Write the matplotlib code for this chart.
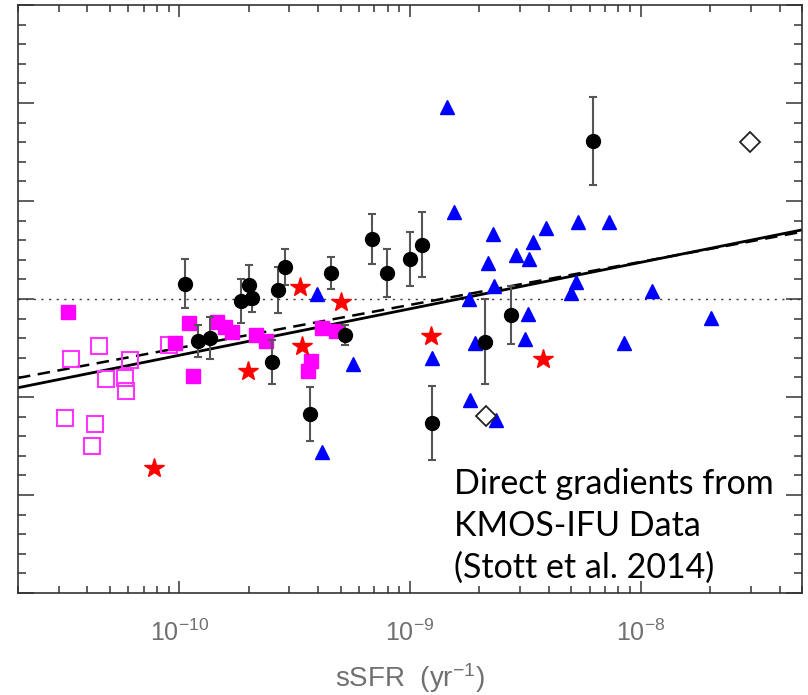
import numpy as np
import matplotlib
matplotlib.use("Agg")
import matplotlib.pyplot as plt
from matplotlib.ticker import LogLocator, MultipleLocator, NullFormatter

# metallicity gradient vs sSFR
sq_x = [3.3e-11, 1.1e-10, 1.46e-10, 1.58e-10, 1.70e-10, 9.6e-11, 1.15e-10, 2.15e-10,
        2.38e-10, 3.73e-10, 3.62e-10, 4.16e-10, 4.78e-10]
sq_y = [-0.0066, -0.0122, -0.0117, -0.0143, -0.0168, -0.0224, -0.0393, -0.0184,
        -0.0214, -0.0316, -0.0367, -0.0148, -0.0163]

open_sq_x = [3.4e-11, 4.5e-11, 6.1e-11, 4.8e-11, 5.8e-11, 5.9e-11, 3.2e-11, 4.3e-11, 4.2e-11, 9.0e-11]
open_sq_y = [-0.0306, -0.0240, -0.0311, -0.0408, -0.0403, -0.0469, -0.0607, -0.0638, -0.0750, -0.0235]

star_x = [7.8e-11, 3.34e-10, 5.03e-10, 3.41e-10, 1.99e-10, 1.23e-9, 3.77e-9]
star_y = [-0.0862, 0.0061, -0.0015, -0.0240, -0.0367, -0.0189, -0.0306]

tri_x = [3.96e-10, 5.67e-10, 4.16e-10, 1.245e-9, 1.82e-9, 1.80e-9, 2.31e-9, 1.91e-9, 3.24e-9,
         3.15e-9, 2.36e-9, 5.23e-9, 4.98e-9, 1.45e-9, 1.55e-9, 2.29e-9, 2.18e-9, 2.88e-9,
         3.27e-9, 3.41e-9, 3.88e-9, 5.34e-9, 7.27e-9, 1.12e-8, 2.01e-8, 8.44e-9]
tri_y = [0.0026, -0.0332, -0.0781, -0.0301, -0.0515, 0.0, 0.0066, -0.0224, -0.0077,
         -0.0204, -0.0617, 0.0087, 0.0031, 0.0980, 0.0444, 0.0332, 0.0184, 0.0224,
         0.0204, 0.0291, 0.0362, 0.0393, 0.0393, 0.0041, -0.0097, -0.0224]

diam_x = [2.99e-8, 2.13e-9]
diam_y = [0.0801, -0.0597]

kmos_x = [1.06e-10, 1.20e-10, 1.36e-10, 1.86e-10, 2.01e-10, 2.07e-10, 2.53e-10, 2.68e-10,
          2.88e-10, 3.69e-10, 4.55e-10, 5.23e-10, 6.85e-10, 7.95e-10, 1.0e-9, 1.13e-9,
          1.245e-9, 2.11e-9, 2.74e-9, 6.20e-9]
kmos_y = [0.0077, -0.0214, -0.0199, -0.0010, 0.0071, 0.0005, -0.0321, 0.0046,
          0.0163, -0.0587, 0.0133, -0.0184, 0.0306, 0.0133, 0.0204, 0.0276,
          -0.0633, -0.0219, -0.0082, 0.0806]
kmos_err = [0.0125, 0.0082, 0.0105, 0.0112, 0.0102, 0.0071, 0.0112, 0.0117,
            0.0092, 0.0140, 0.0082, 0.0051, 0.0128, 0.0122, 0.0140, 0.0166,
            0.0189, 0.0217, 0.0150, 0.0224]

# linear fits in log(sSFR): y = a + b * (log10(sSFR) + 9)
fit_solid = [-0.0050, 0.0237]
fit_dashed = [-0.0030, 0.02195]

xticks = [1e-10, 1e-9, 1e-8]
xtick_labels = ['10$^{-10}$', '10$^{-9}$', '10$^{-8}$']

plt.rcParams['font.family'] = ['Liberation Sans', 'DejaVu Sans']
plt.rcParams['mathtext.fontset'] = 'custom'
plt.rcParams['mathtext.rm'] = 'Liberation Sans'
plt.rcParams['mathtext.it'] = 'Liberation Sans:italic'

fig = plt.figure(figsize=(8.08, 6.95), dpi=100)
ax = fig.add_axes([18 / 808, 1 - 593 / 695, 784 / 808, 588 / 695])

xlim = (2.0e-11, 5.0e-8)
ax.set_xscale('log')
ax.set_xlim(xlim)
ax.set_ylim(-0.15, 0.15)

ax.axhline(0, color='#333333', ls=(0, (1.5, 4)), lw=1, zorder=1)

lx = np.linspace(np.log10(xlim[0]), np.log10(xlim[1]), 50)
ax.plot(10 ** lx, fit_solid[0] + fit_solid[1] * (lx + 9), color='black', lw=2, zorder=2)
ax.plot(10 ** lx, fit_dashed[0] + fit_dashed[1] * (lx + 9), color='black', lw=1.8,
        ls=(0, (5, 3)), zorder=2)

ax.plot(open_sq_x, open_sq_y, 's', ms=12, mfc='none', mec='#ff33ff', mew=1.5, zorder=3)
ax.plot(sq_x, sq_y, 's', ms=10, color='#ff00ff', zorder=3)
ax.plot(tri_x, tri_y, '^', ms=10.5, color='#0000ff', zorder=3)
ax.plot(star_x, star_y, '*', ms=15, color='#ff0000', zorder=3)
ax.plot(diam_x, diam_y, 'D', ms=10, mfc='white', mec='#222222', mew=1.3, zorder=3)
ax.errorbar(kmos_x, kmos_y, yerr=kmos_err, fmt='o', ms=10, color='black',
            ecolor='#555555', elinewidth=1.5, capsize=3, capthick=1.5, zorder=4)

ax.set_xticks(xticks, labels=xtick_labels)
ax.xaxis.set_minor_locator(LogLocator(base=10, subs=np.arange(2, 10)))
ax.xaxis.set_minor_formatter(NullFormatter())
ax.yaxis.set_major_locator(MultipleLocator(0.05))
ax.yaxis.set_minor_locator(MultipleLocator(0.01))

ax.tick_params(axis='both', which='both', direction='in', top=True, right=True,
               color='#333333', width=1.1)
ax.tick_params(axis='y', which='major', length=11.5, labelleft=False)
ax.tick_params(axis='y', which='minor', length=5.5)
ax.tick_params(axis='x', which='major', length=8.5, pad=19, labelsize=18, labelcolor='#707070')
ax.tick_params(axis='x', which='minor', length=5)
for s in ax.spines.values():
    s.set_color('#333333')
    s.set_linewidth(1.2)

ax.set_xlabel('sSFR  (yr$^{-1}$)', fontsize=20, color='#707070', labelpad=11)

# va='baseline' on multi-line text pins the last line's baseline
fig.text(454 / 808, 1 - 578 / 695, 'Direct gradients from\nKMOS-IFU Data\n(Stott et al. 2014)',
         fontsize=24.5, family=['Lato', 'DejaVu Sans'], va='baseline', ha='left',
         linespacing=1.37, color='black')

fig.savefig('out.png', dpi=100)
